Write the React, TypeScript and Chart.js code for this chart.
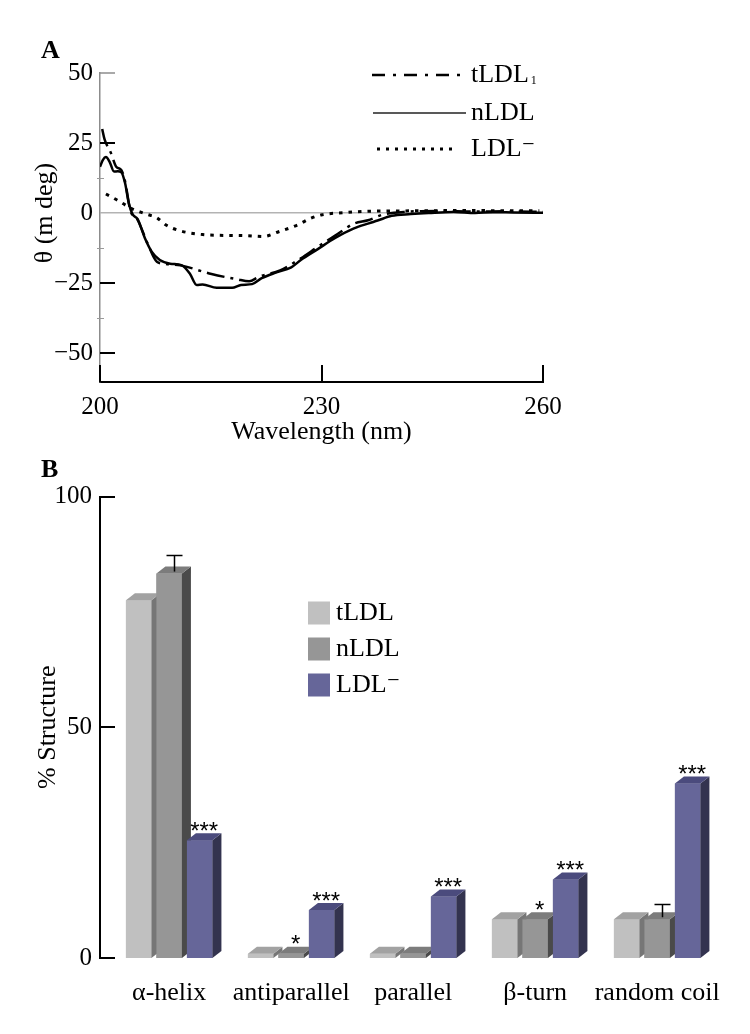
import { useEffect, useRef } from "react";
import { Chart, registerables } from "chart.js";

Chart.register(...registerables);

const SERIF = "'Liberation Serif', 'Times New Roman', 'DejaVu Serif', serif";
const SANS = "'Liberation Sans', Arial, sans-serif";

// ---------- Panel A: CD spectra (wavelength nm, theta m deg) ----------
const tLDLWavelength = [200.3, 200.6, 201.5, 202.2, 202.9, 203.4, 204.1, 205.1, 206.4, 207.7, 208.9, 210.9, 215.1, 218.6, 220.2, 221.5, 224.4, 227.2, 229.6, 231.9, 234.4, 236.3, 238.3, 241.2, 246.0, 250.8, 255.0, 260.0];
const tLDLTheta = [30.0, 26.5, 21.3, 16.5, 15.3, 11.2, 1.1, -2.5, -10.6, -17.4, -18.2, -18.7, -21.8, -23.7, -24.4, -22.8, -20.5, -16.2, -11.9, -8.0, -3.8, -2.6, -0.6, 0.4, 0.7, 0.5, 0.6, 0.4];

const nLDLWavelength = [200.0, 200.4, 200.8, 201.3, 201.9, 202.4, 202.9, 203.4, 203.9, 204.4, 205.1, 206.1, 207.0, 208.1, 209.5, 211.1, 212.2, 213.1, 213.9, 215.8, 217.9, 219.1, 220.6, 221.9, 223.8, 225.9, 227.2, 229.5, 231.8, 234.4, 236.4, 237.6, 239.5, 242.1, 244.5, 247.9, 250.8, 253.2, 256.0, 260.0];
const nLDLTheta = [16.5, 19.0, 20.0, 18.3, 14.8, 14.9, 14.5, 10.6, 3.5, -0.4, -2.2, -9.1, -13.8, -16.8, -18.1, -18.7, -21.8, -25.7, -25.5, -26.7, -26.7, -25.7, -25.4, -23.3, -21.3, -19.4, -16.8, -12.9, -9.0, -5.5, -3.7, -2.7, -1.0, -0.4, 0.0, 0.4, 0.0, 0.3, 0.2, 0.1];

const ldlMinusWavelength = [200.8, 202.2, 203.4, 204.4, 205.5, 206.5, 207.6, 209.0, 210.9, 213.9, 216.8, 219.8, 222.1, 224.2, 226.8, 228.6, 230.1, 233.0, 236.1, 239.3, 243.6, 250.0, 255.0, 259.5];
const ldlMinusTheta = [6.8, 4.8, 2.9, 1.4, 0.3, -0.6, -1.5, -4.4, -6.4, -7.7, -8.0, -8.1, -8.4, -6.7, -4.2, -1.8, -0.6, 0.1, 0.6, 0.7, 0.8, 0.9, 0.8, 0.8];

const thetaTicks = [50, 25, 0, -25, -50];
const thetaMinorTicks = [12.5, -12.5, -37.5];
const wavelengthTicks = [200, 230, 260];

// ---------- Panel B: secondary structure (%) ----------
const categories = ["\u03b1-helix", "antiparallel", "parallel", "\u03b2-turn", "random coil"];
const tLDLStructure = [77.5, 0.9, 0.9, 8.4, 8.4];
const nLDLStructure = [83.3, 0.9, 0.9, 8.4, 8.4];
const ldlMinusStructure = [25.5, 10.4, 13.3, 17.0, 37.8];
const nLDLError = [4.1, 0, 0, 0, 3.3];
const nLDLMarks = ["", "*", "", "*", ""];
const ldlMinusMarks = ["***", "***", "***", "***", "***"];
const structureTicks = [0, 50, 100];

const seriesNames = ["tLDL", "nLDL", "LDL\u207B"];

// styles
const barFront = ["#c0c0c0", "#969696", "#666699"];
const barTop = ["#a2a2a2", "#7c7c7c", "#4b4b7d"];
const barSide = ["#767676", "#4a4a4a", "#33334f"];
const DX = 9;
const DY = 7;

const fmtTheta = (v: number) => (v < 0 ? "\u2212" + Math.abs(v) : String(v));
const toPoints = (xs: number[], ys: number[]) => xs.map((x, i) => ({ x, y: ys[i] }));
const toIndexPoints = (ys: number[]) => ys.map((y, i) => ({ x: i, y }));

function line(ctx: any, x1: number, y1: number, x2: number, y2: number) {
  ctx.beginPath();
  ctx.moveTo(x1, y1);
  ctx.lineTo(x2, y2);
  ctx.stroke();
}

const legendDashA = [[13, 8, 3, 8], [], [3, 6]];
const legendWidthA = [2.5, 1.5, 3];
const legendSampleA = [[-99, -3], [-98, -5], [-94, -19]];
const legendRowsA = [2, 40, 76];

const panelAPlugin = {
  id: "panelA",
  afterDraw(chart: any) {
    const { ctx, chartArea, scales } = chart;
    const x = scales.x;
    const y = scales.y;
    const { left, bottom } = chartArea;
    ctx.save();
    ctx.lineCap = "butt";
    // inside y ticks
    for (const v of thetaTicks) {
      if (v === 0) continue;
      ctx.strokeStyle = v === 50 ? "#8c8c8c" : "#000";
      ctx.lineWidth = v === 50 ? 1.5 : 2;
      const py = Math.round(y.getPixelForValue(v));
      line(ctx, left, py, left + 15, py);
    }
    ctx.strokeStyle = "#9a9a9a";
    ctx.lineWidth = 1;
    for (const v of thetaMinorTicks) {
      const py = Math.round(y.getPixelForValue(v)) + 0.5;
      line(ctx, left - 3, py, left + 4, py);
    }
    // inside x ticks
    ctx.strokeStyle = "#000";
    ctx.lineWidth = 2;
    for (const v of wavelengthTicks) {
      const px = Math.round(x.getPixelForValue(v));
      line(ctx, px, bottom, px, bottom - 17);
    }
    // panel letter
    ctx.fillStyle = "#000";
    ctx.font = `bold 26px ${SERIF}`;
    ctx.textAlign = "left";
    ctx.textBaseline = "alphabetic";
    ctx.fillText("A", 33, 50);
    // y title
    ctx.save();
    ctx.translate(37, y.getPixelForValue(0));
    ctx.rotate(-Math.PI / 2);
    ctx.font = `26px ${SERIF}`;
    ctx.textAlign = "center";
    ctx.textBaseline = "middle";
    ctx.fillText("\u03b8 (m deg)", 0, 0);
    ctx.restore();
    // legend
    const lx = chartArea.right - 72;
    chart.data.datasets.forEach((ds: any, i: number) => {
      const ry = chartArea.top + legendRowsA[i];
      ctx.strokeStyle = i === 1 ? "#222" : "#000";
      ctx.lineWidth = legendWidthA[i];
      ctx.setLineDash(legendDashA[i]);
      line(ctx, lx + legendSampleA[i][0], ry, lx + legendSampleA[i][1], ry);
      ctx.setLineDash([]);
      ctx.font = `26px ${SERIF}`;
      ctx.textAlign = "left";
      ctx.textBaseline = "middle";
      ctx.fillText(ds.label, lx, ry);
      if (i === 0) {
        const w = ctx.measureText(ds.label).width;
        ctx.font = `12px ${SERIF}`;
        ctx.fillText("1", lx + w + 2, ry + 6);
      }
    });
    ctx.restore();
  },
};

const panelBPlugin = {
  id: "panelB",
  afterDatasetsDraw(chart: any) {
    const { ctx, chartArea, scales } = chart;
    const y = scales.y;
    ctx.save();
    // 3D bars, drawn left to right within each group
    chart.data.datasets.forEach((_ds: any, i: number) => {
      const meta = chart.getDatasetMeta(i);
      meta.data.forEach((el: any) => {
        const p = el.getProps(["x", "y", "base", "width"], true);
        const l = p.x - p.width / 2;
        const r = p.x + p.width / 2;
        ctx.fillStyle = barFront[i];
        ctx.fillRect(l, p.y, p.width, p.base - p.y);
        ctx.fillStyle = barSide[i];
        ctx.beginPath();
        ctx.moveTo(r, p.y);
        ctx.lineTo(r + DX, p.y - DY);
        ctx.lineTo(r + DX, p.base - DY);
        ctx.lineTo(r, p.base);
        ctx.closePath();
        ctx.fill();
        ctx.fillStyle = barTop[i];
        ctx.beginPath();
        ctx.moveTo(l, p.y);
        ctx.lineTo(l + DX, p.y - DY);
        ctx.lineTo(r + DX, p.y - DY);
        ctx.lineTo(r, p.y);
        ctx.closePath();
        ctx.fill();
      });
    });
    // error bars on nLDL
    const metaN = chart.getDatasetMeta(1);
    ctx.strokeStyle = "#000";
    ctx.lineWidth = 1.5;
    metaN.data.forEach((el: any, j: number) => {
      if (!nLDLError[j]) return;
      const p = el.getProps(["x", "y"], true);
      const cx = Math.round(p.x + DX / 2) + 0.5;
      const yt = Math.round(y.getPixelForValue(nLDLStructure[j] + nLDLError[j])) + 0.5;
      line(ctx, cx, yt, cx, p.y - 2);
      line(ctx, cx - 8, yt, cx + 8, yt);
    });
    // significance marks
    ctx.fillStyle = "#000";
    ctx.font = `24px ${SANS}`;
    ctx.textAlign = "center";
    ctx.textBaseline = "alphabetic";
    const marks = [null, nLDLMarks, ldlMinusMarks];
    [1, 2].forEach((i) => {
      const meta = chart.getDatasetMeta(i);
      meta.data.forEach((el: any, j: number) => {
        const m = (marks[i] as string[])[j];
        if (!m) return;
        const p = el.getProps(["x", "y"], true);
        ctx.fillText(m, p.x + DX / 2, p.y - 1.5);
      });
    });
    // inside y ticks
    ctx.lineWidth = 2;
    for (const v of structureTicks) {
      const py = Math.round(y.getPixelForValue(v));
      line(ctx, chartArea.left, py, chartArea.left + 15, py);
    }
    // panel letter
    ctx.font = `bold 26px ${SERIF}`;
    ctx.textAlign = "left";
    ctx.fillText("B", 33, 24);
    // legend
    const bx = chartArea.left + 208;
    const rows = [116.5, 152.5, 188.5];
    chart.data.datasets.forEach((ds: any, i: number) => {
      const ry = chartArea.top + rows[i];
      ctx.fillStyle = barFront[i];
      ctx.fillRect(bx, ry - 11.5, 22, 23);
      ctx.fillStyle = "#000";
      ctx.font = `26px ${SERIF}`;
      ctx.textAlign = "left";
      ctx.textBaseline = "middle";
      ctx.fillText(ds.label, bx + 28, ry);
    });
    ctx.restore();
  },
};

export default function App() {
  const refA = useRef<HTMLCanvasElement>(null);
  const refB = useRef<HTMLCanvasElement>(null);

  useEffect(() => {
    Chart.defaults.font.family = SERIF;
    Chart.defaults.color = "#000";

    const chartA = new Chart(refA.current as HTMLCanvasElement, {
      type: "line",
      data: {
        datasets: [
          {
            label: seriesNames[0],
            data: toPoints(tLDLWavelength, tLDLTheta),
            borderColor: "#000",
            borderWidth: 2.5,
            borderDash: [18, 6, 3, 6],
            pointRadius: 0,
            cubicInterpolationMode: "monotone",
            fill: false,
          },
          {
            label: seriesNames[1],
            data: toPoints(nLDLWavelength, nLDLTheta),
            borderColor: "#000",
            borderWidth: 2.5,
            pointRadius: 0,
            cubicInterpolationMode: "monotone",
            fill: false,
          },
          {
            label: seriesNames[2],
            data: toPoints(ldlMinusWavelength, ldlMinusTheta),
            borderColor: "#000",
            borderWidth: 3,
            borderDash: [3.5, 6],
            borderCapStyle: "butt",
            pointRadius: 0,
            cubicInterpolationMode: "monotone",
            fill: false,
          },
        ],
      } as any,
      options: {
        animation: false,
        responsive: false,
        devicePixelRatio: 1,
        layout: { padding: { left: 0, top: 65, right: 199, bottom: 0 } },
        plugins: { legend: { display: false }, tooltip: { enabled: false } },
        scales: {
          x: {
            type: "linear",
            min: 200,
            max: 260,
            afterBuildTicks: (s: any) => {
              s.ticks = wavelengthTicks.map((v) => ({ value: v }));
            },
            afterFit: (s: any) => {
              s.height = 71;
            },
            grid: { display: false, drawTicks: false },
            border: { display: true, color: "#000", width: 2 },
            ticks: {
              font: { size: 25, family: SERIF },
              color: "#000",
              padding: 10,
              maxRotation: 0,
              autoSkip: false,
              callback: (v: any) => String(v),
            },
            title: {
              display: true,
              text: "Wavelength (nm)",
              font: { size: 26, family: SERIF },
              color: "#000",
              padding: { top: 0, bottom: 4.8 },
            },
          },
          y: {
            type: "linear",
            min: -60.36,
            max: 50,
            afterBuildTicks: (s: any) => {
              s.ticks = thetaTicks.map((v) => ({ value: v }));
            },
            afterFit: (s: any) => {
              s.width = 92;
            },
            grid: {
              drawTicks: false,
              lineWidth: 1.5,
              color: (c: any) => (c.tick && c.tick.value === 0 ? "#b3b3b3" : "rgba(0,0,0,0)"),
            },
            border: { display: true, color: "#8c8c8c", width: 1.5 },
            ticks: {
              font: { size: 25, family: SERIF },
              color: "#000",
              padding: 7,
              autoSkip: false,
              callback: (v: any) => fmtTheta(Number(v)),
            },
          },
        },
      } as any,
      plugins: [panelAPlugin],
    });

    const chartB = new Chart(refB.current as HTMLCanvasElement, {
      type: "bar",
      data: {
        datasets: [
          { label: seriesNames[0], data: toIndexPoints(tLDLStructure), backgroundColor: barFront[0] },
          { label: seriesNames[1], data: toIndexPoints(nLDLStructure), backgroundColor: barFront[1] },
          { label: seriesNames[2], data: toIndexPoints(ldlMinusStructure), backgroundColor: barFront[2] },
        ],
      } as any,
      options: {
        animation: false,
        responsive: false,
        devicePixelRatio: 1,
        layout: { padding: { left: 0, top: 43.5, right: 7, bottom: 0 } },
        datasets: { bar: { categoryPercentage: 0.75, barPercentage: 0.836 } },
        plugins: { legend: { display: false }, tooltip: { enabled: false } },
        scales: {
          x: {
            type: "linear",
            offset: false,
            min: -0.567,
            max: 4.638,
            afterBuildTicks: (s: any) => {
              s.ticks = categories.map((_c, i) => ({ value: i }));
            },
            afterFit: (s: any) => {
              s.height = 68;
            },
            grid: { display: false, drawTicks: false },
            border: { display: false },
            ticks: {
              font: { size: 26, family: SERIF },
              color: "#000",
              padding: 20,
              maxRotation: 0,
              autoSkip: false,
              callback: (v: any) => categories[Number(v)] ?? "",
            },
          },
          y: {
            type: "linear",
            min: 0,
            max: 100,
            afterBuildTicks: (s: any) => {
              s.ticks = structureTicks.map((v) => ({ value: v }));
            },
            afterFit: (s: any) => {
              s.width = 92;
            },
            grid: { display: false, drawTicks: false },
            border: { display: true, color: "#000", width: 2 },
            ticks: {
              font: { size: 25, family: SERIF },
              color: "#000",
              padding: 8,
              autoSkip: false,
            },
            title: {
              display: true,
              text: "% Structure",
              font: { size: 26, family: SERIF },
              color: "#000",
              padding: { top: 24.4, bottom: 0 },
            },
          },
        },
      } as any,
      plugins: [panelBPlugin],
    });

    return () => {
      chartA.destroy();
      chartB.destroy();
    };
  }, []);

  return (
    <div style={{ width: 734 }}>
      <canvas ref={refA} width={734} height={445} style={{ display: "block", width: 734, height: 445 }} />
      <canvas ref={refB} width={734} height={573} style={{ display: "block", width: 734, height: 573 }} />
    </div>
  );
}
